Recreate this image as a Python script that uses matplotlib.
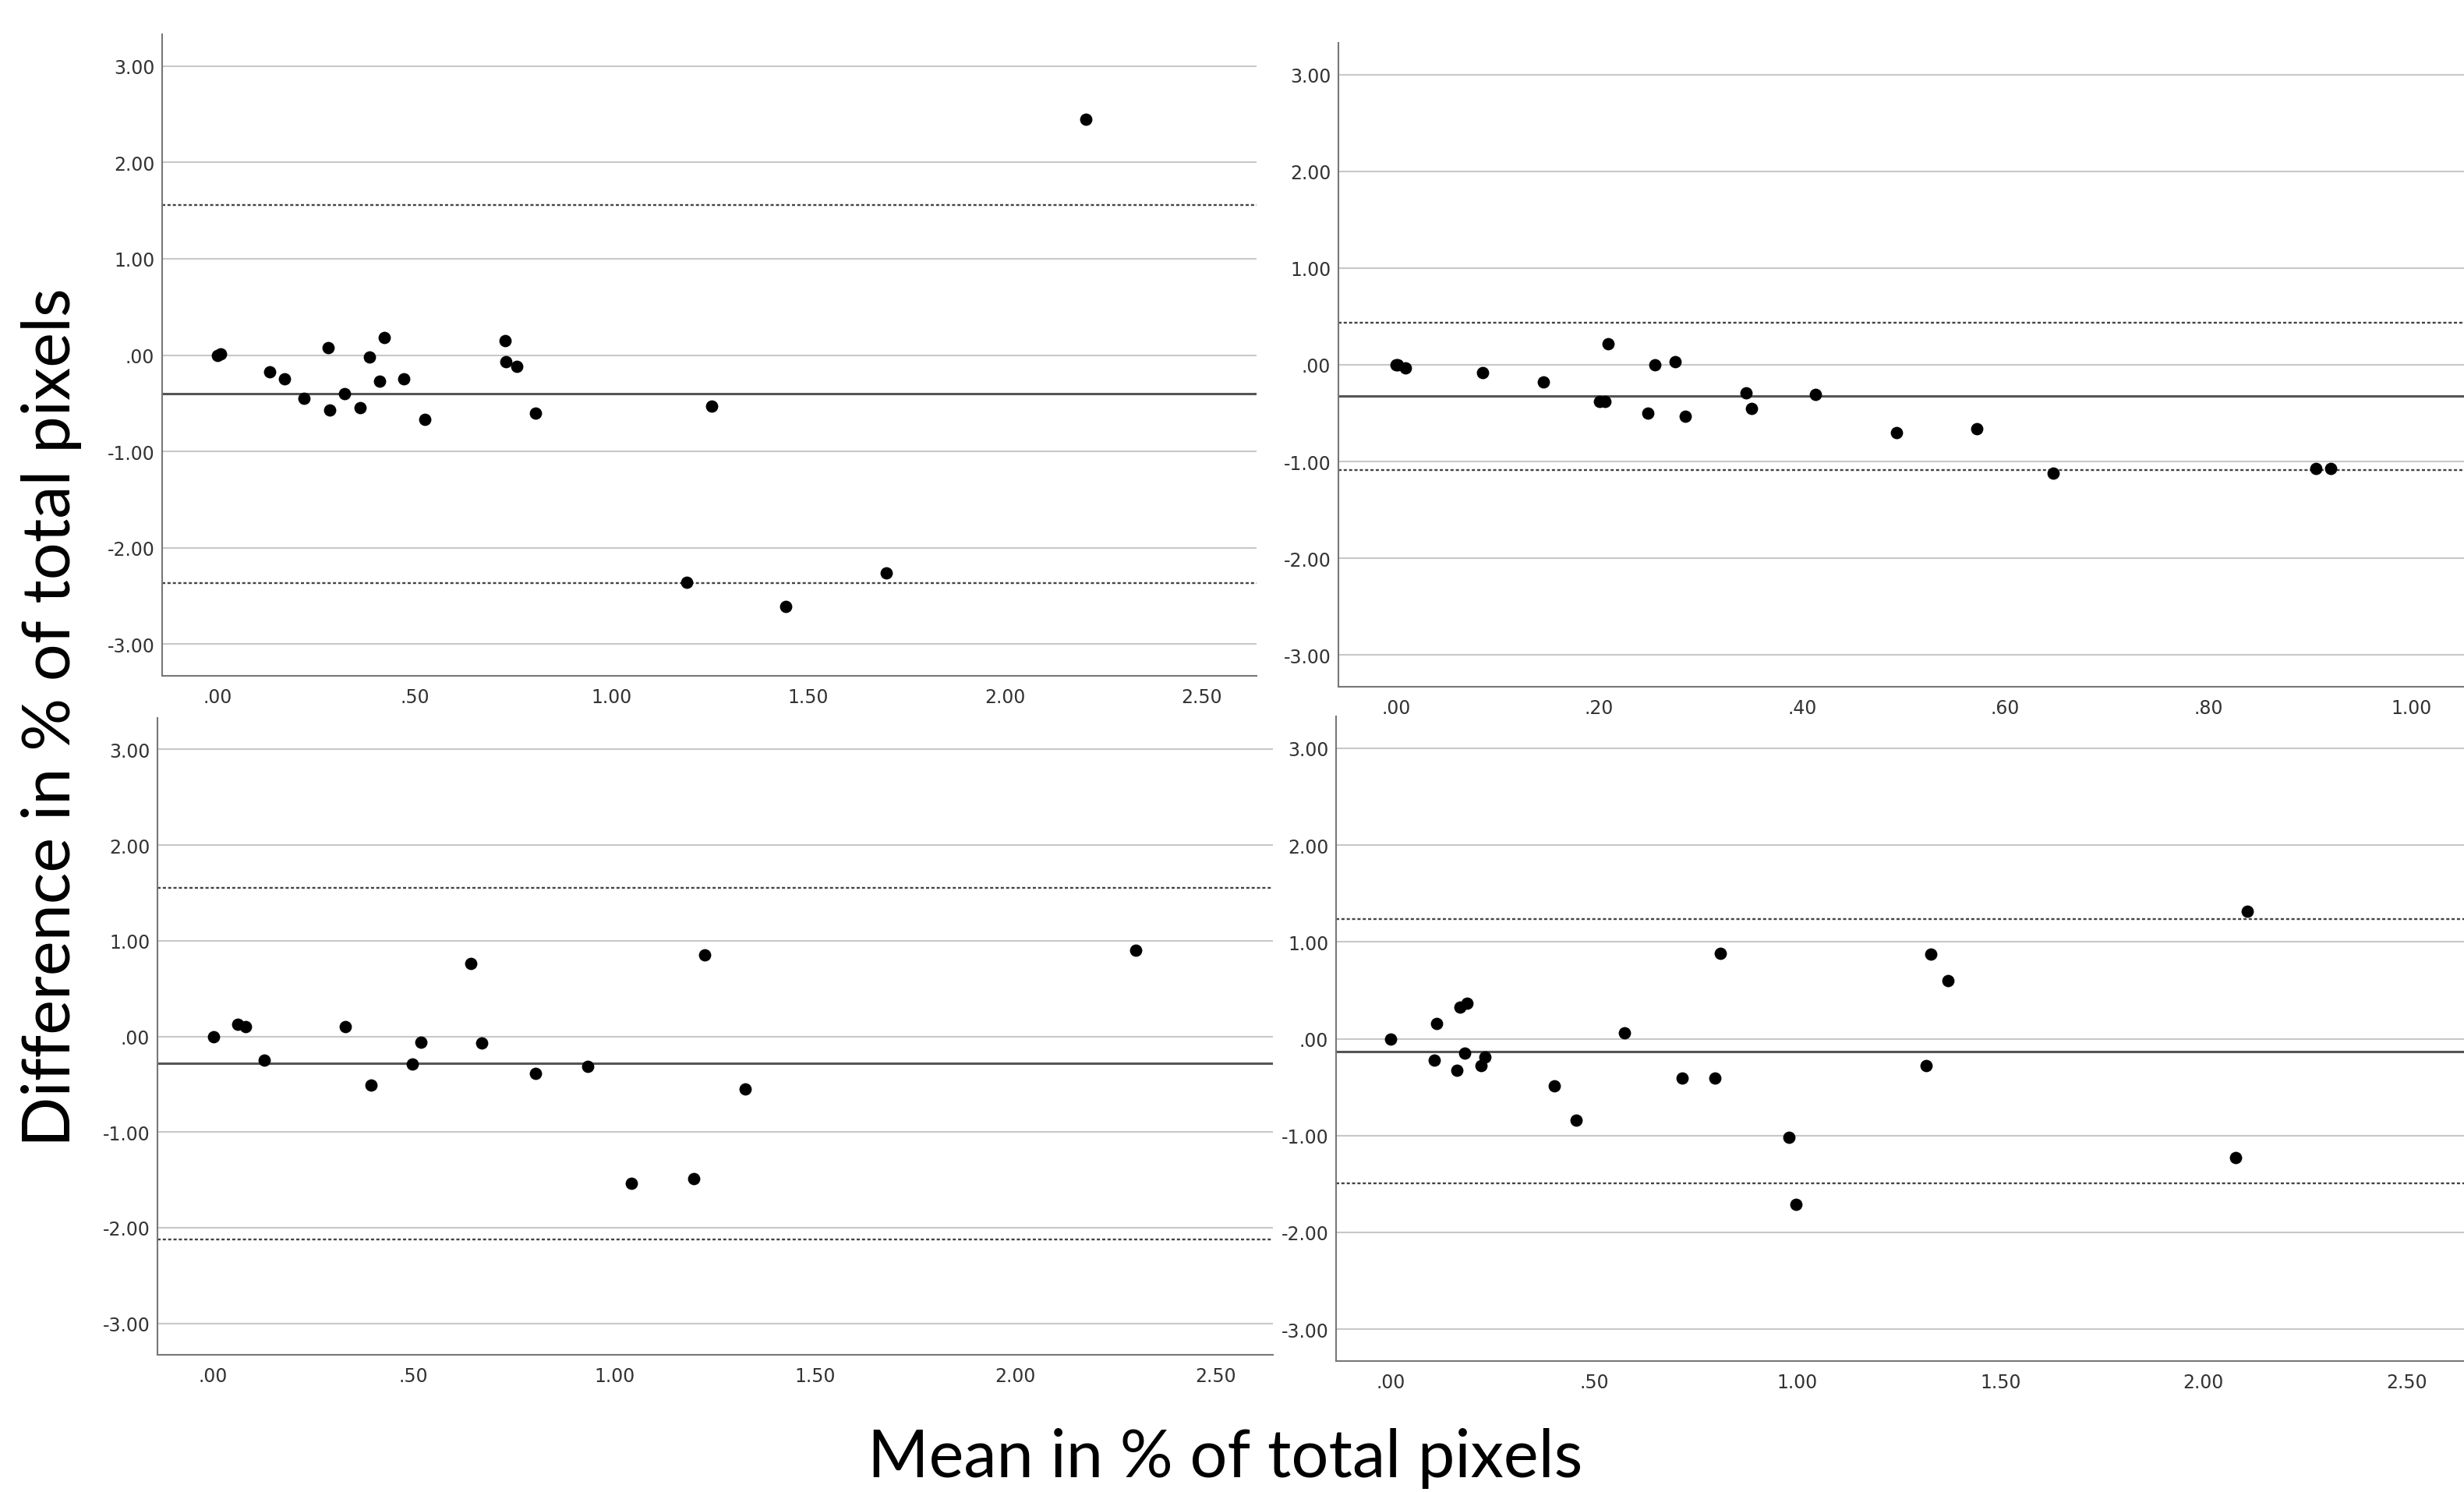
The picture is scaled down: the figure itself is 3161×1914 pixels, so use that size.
import matplotlib.pyplot as plt

# Bland-Altman style panels: mean (x) vs difference (y)
x1 = [0.000, 0.006, 0.131, 0.170, 0.219, 0.280, 0.284, 0.322, 0.362, 0.385, 0.412,
      0.424, 0.473, 0.526, 0.731, 0.733, 0.760, 0.807, 1.192, 1.255, 1.444, 1.699, 2.207]
y1 = [0.00, 0.01, -0.17, -0.25, -0.45, 0.08, -0.57, -0.40, -0.55, -0.02, -0.27,
      0.18, -0.25, -0.67, 0.15, -0.07, -0.12, -0.60, -2.36, -0.53, -2.61, -2.26, 2.45]

x2 = [0.000, 0.001, 0.009, 0.085, 0.145, 0.200, 0.206, 0.209, 0.248, 0.255, 0.275,
      0.285, 0.345, 0.350, 0.413, 0.493, 0.572, 0.647, 0.906, 0.921]
y2 = [0.00, 0.00, -0.03, -0.08, -0.18, -0.38, -0.38, 0.22, -0.50, 0.00, 0.03,
      -0.53, -0.29, -0.45, -0.31, -0.70, -0.66, -1.12, -1.07, -1.07]

x3 = [0.000, 0.062, 0.080, 0.127, 0.329, 0.394, 0.496, 0.518, 0.643, 0.669, 0.803,
      0.934, 1.042, 1.199, 1.225, 1.327, 2.299]
y3 = [0.00, 0.13, 0.10, -0.25, 0.10, -0.51, -0.29, -0.06, 0.76, -0.07, -0.39,
      -0.31, -1.54, -1.49, 0.85, -0.55, 0.90]

x4 = [0.000, 0.113, 0.107, 0.170, 0.187, 0.162, 0.181, 0.222, 0.231, 0.403, 0.455,
      0.575, 0.716, 0.798, 0.810, 0.980, 0.997, 1.318, 1.329, 1.371, 2.078, 2.107]
y4 = [0.00, 0.16, -0.22, 0.33, 0.365, -0.33, -0.15, -0.28, -0.19, -0.49, -0.84,
      0.06, -0.41, -0.41, 0.88, -1.02, -1.71, -0.28, 0.87, 0.60, -1.23, 1.32]

# mean difference, upper and lower limits of agreement
lines1 = [-0.40, 1.56, -2.37]
lines2 = [-0.32, 0.435, -1.09]
lines3 = [-0.28, 1.55, -2.12]
lines4 = [-0.13, 1.235, -1.49]

y_ticks = [-3, -2, -1, 0, 1, 2, 3]
x_ticks_wide = [0, 0.5, 1.0, 1.5, 2.0, 2.5]
x_ticks_narrow = [0, 0.2, 0.4, 0.6, 0.8, 1.0]

W, H = 3161, 1915
fig = plt.figure(figsize=(W / 100, H / 100), dpi=100)

tick_font = ['Liberation Sans Narrow', 'DejaVu Sans']


def spss_fmt(v):
    s = f"{v:.2f}"
    if s.startswith("0."):
        s = s[1:]
    elif s.startswith("-0."):
        s = "-" + s[2:]
    return s


def panel(left, right, top, bottom, xs, ys, lines, xticks, xlim):
    ax = fig.add_axes([left / W, 1 - bottom / H, (right - left) / W, (bottom - top) / H])
    ax.set_ylim(-3.33, 3.33)
    ax.set_xlim(*xlim)
    for t in y_ticks:
        ax.axhline(t, color='#c8c8c8', lw=1.5, zorder=1)
    ax.axhline(lines[0], color='#555555', lw=2.2, zorder=2)
    for v in lines[1:]:
        ax.axhline(v, color='#444444', lw=1.7, dashes=(1.7, 1.2), zorder=2)
    ax.scatter(xs, ys, s=130, color='black', zorder=3, linewidths=0)
    ax.set_yticks(y_ticks)
    ax.set_yticklabels([spss_fmt(t) for t in y_ticks])
    ax.set_xticks(xticks)
    ax.set_xticklabels([spss_fmt(t) for t in xticks])
    ax.tick_params(length=0, labelsize=17, colors='#333333')
    ax.tick_params(axis='x', pad=11)
    ax.tick_params(axis='y', pad=7)
    for lab in ax.get_xticklabels() + ax.get_yticklabels():
        lab.set_family(tick_font)
    for side in ['top', 'right']:
        ax.spines[side].set_visible(False)
    for side in ['left', 'bottom']:
        ax.spines[side].set_color('#777777')
        ax.spines[side].set_linewidth(1.5)
    return ax


panel(208, 1612, 45, 868, x1, y1, lines1, x_ticks_wide, (-0.1416, 2.64))
panel(1717, 3161, 56, 882, x2, y2, lines2, x_ticks_narrow, (-0.057, 1.052))
panel(202, 1633, 922, 1739, x3, y3, lines3, x_ticks_wide, (-0.139, 2.642))
panel(1714, 3161, 920, 1747, x4, y4, lines4, x_ticks_wide, (-0.135, 2.641))

label_font = ['Lato', 'DejaVu Sans']
fig.text(66 / W, 1 - 920 / H, 'Difference in % of total pixels', rotation=90,
         ha='center', va='center', fontsize=61, family=label_font)
fig.text(1572 / W, 1 - 1871 / H, 'Mean in % of total pixels',
         ha='center', va='center', fontsize=61, family=label_font)

fig.savefig('out.png', dpi=100)
